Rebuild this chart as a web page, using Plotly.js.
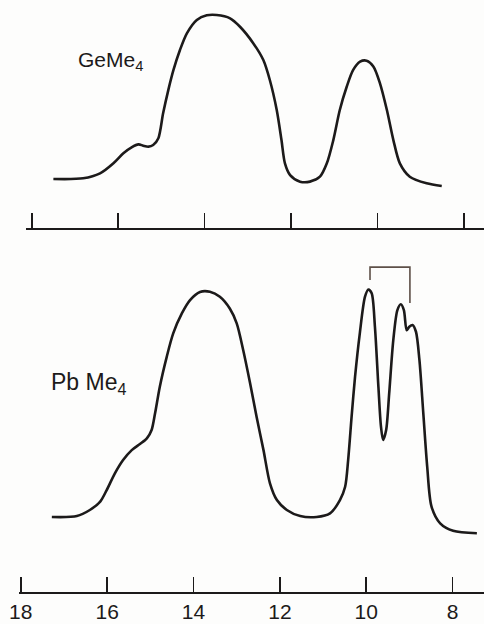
<!DOCTYPE html>
<html>
<head>
<meta charset="utf-8">
<script src="https://cdn.plot.ly/plotly-3.0.1.min.js"></script>
<style>html,body{margin:0;padding:0;background:#fdfdfc;}#chart{width:484px;height:624px;}</style>
</head>
<body>
<div id="chart"></div>
<script>
// Ionization energy (eV) and relative intensity
const geEnergy = [17.50,16.81,16.42,16.11,15.88,15.69,15.53,15.42,15.30,15.19,15.07,14.96,14.84,14.72,14.57,14.41,14.18,13.95,13.72,13.41,13.18,12.87,12.64,12.49,12.33,12.22,12.14,12.02,11.79,11.56,11.33,11.17,11.02,10.87,10.71,10.56,10.40,10.25,10.09,9.94,9.78,9.63,9.48,9.25,8.86,8.51];
const geIntensity = [0.6,1.0,4.0,10.1,16.2,19.8,21.6,20.8,20.2,21.2,25.3,40.4,54.5,66.7,78.8,88.9,97.0,99.8,100,98.0,92.9,82.8,72.7,60.6,42.4,24.2,10.1,3.0,-1.0,-1.0,2.0,10.1,24.2,42.4,56.5,66.7,71.7,72.3,68.7,58.6,42.4,24.2,10.1,2.0,-2.0,-3.6];

const pbEnergy = [17.28,16.70,16.40,16.16,16.01,15.82,15.63,15.43,15.24,15.08,14.97,14.89,14.78,14.62,14.47,14.27,14.08,13.85,13.62,13.39,13.16,13.00,12.85,12.69,12.54,12.38,12.23,12.07,11.84,11.53,11.15,10.84,10.61,10.49,10.42,10.34,10.26,10.15,10.03,9.95,9.875,9.80,9.72,9.66,9.61,9.54,9.47,9.375,9.28,9.20,9.13,9.065,9.005,8.93,8.85,8.77,8.68,8.59,8.49,8.29,7.99,7.44];
const pbIntensity = [0,0.4,3.1,6.8,11.9,19.3,25.2,29.6,32.3,34.8,38.5,45.9,57.7,70.9,81.3,90.1,96.0,99.6,99.7,97.5,92.3,85.7,73.9,59.2,44.4,29.6,14.9,7.5,3.1,0.4,0,1.6,7.5,13.4,25.2,44.4,62.1,81.3,97.5,100.7,99.0,84.2,57.7,40.0,34.1,38.5,54.7,78.3,91.6,94.2,91.6,82.7,84.2,85.0,82.0,69.5,45.9,22.3,4.6,-2.8,-6.1,-7.2];

// spin-orbit splitting bracket over the PbMe4 first band
const bracketX = [9.914, 9.914, 8.99, 8.99];
const bracketY = [104.9, 110.6, 110.6, 94.7];

const tickVals = [18, 16, 14, 12, 10, 8];
const tickText = ['18', '16', '14', '12', '10', '8'];

const ink = '#1c1a1a';

const traces = [
  {x: geEnergy, y: geIntensity, xaxis: 'x2', yaxis: 'y2', mode: 'lines',
   line: {color: ink, width: 2.6, shape: 'spline', smoothing: 0.8}, hoverinfo: 'skip'},
  {x: pbEnergy, y: pbIntensity, xaxis: 'x', yaxis: 'y', mode: 'lines',
   line: {color: ink, width: 2.6, shape: 'spline', smoothing: 0.8}, hoverinfo: 'skip'},
  {x: bracketX, y: bracketY, xaxis: 'x', yaxis: 'y', mode: 'lines',
   line: {color: '#5e5048', width: 1.6}, hoverinfo: 'skip'}
];

const layout = {
  width: 484, height: 624,
  margin: {l: 0, r: 0, t: 0, b: 0},
  paper_bgcolor: '#fdfdfc', plot_bgcolor: 'rgba(0,0,0,0)',
  showlegend: false,
  xaxis: {
    domain: [19/484, 1], range: [18.04, 7.275], anchor: 'y',
    showgrid: false, zeroline: false, showline: true, linecolor: ink, linewidth: 2.2,
    ticks: 'inside', ticklen: 15, tickwidth: 1.6, tickcolor: ink,
    tickmode: 'array', tickvals: tickVals, ticktext: tickText,
    ticklabelstandoff: 0,
    tickfont: {family: 'Liberation Sans, Arial, sans-serif', size: 21, color: ink}
  },
  yaxis: {domain: [1 - 592/624, 1 - 245/624], range: [-33.2, 120.4], visible: false, anchor: 'x'},
  xaxis2: {
    domain: [26/484, 1], range: [18.134, 7.532], anchor: 'y2',
    showgrid: false, zeroline: false, showline: true, linecolor: ink, linewidth: 2.2,
    ticks: 'inside', ticklen: 15, tickwidth: 1.6, tickcolor: ink,
    tickmode: 'array', tickvals: tickVals, showticklabels: false
  },
  yaxis2: {domain: [1 - 228/624, 1], range: [-29.1, 109.1], visible: false, anchor: 'x2'},
  annotations: [
    {text: 'GeMe<sub>4</sub>', xref: 'paper', yref: 'paper', x: 76/484, y: 1 - 61/624,
     xanchor: 'left', yanchor: 'middle', showarrow: false,
     font: {family: 'Liberation Sans, Arial, sans-serif', size: 21, color: ink}},
    {text: 'Pb Me<sub>4</sub>', xref: 'paper', yref: 'paper', x: 49/484, y: 1 - 383/624,
     xanchor: 'left', yanchor: 'middle', showarrow: false,
     font: {family: 'Liberation Sans, Arial, sans-serif', size: 23, color: ink}}
  ]
};

Plotly.newPlot('chart', traces, layout, {staticPlot: true, displayModeBar: false});
</script>
</body>
</html>
